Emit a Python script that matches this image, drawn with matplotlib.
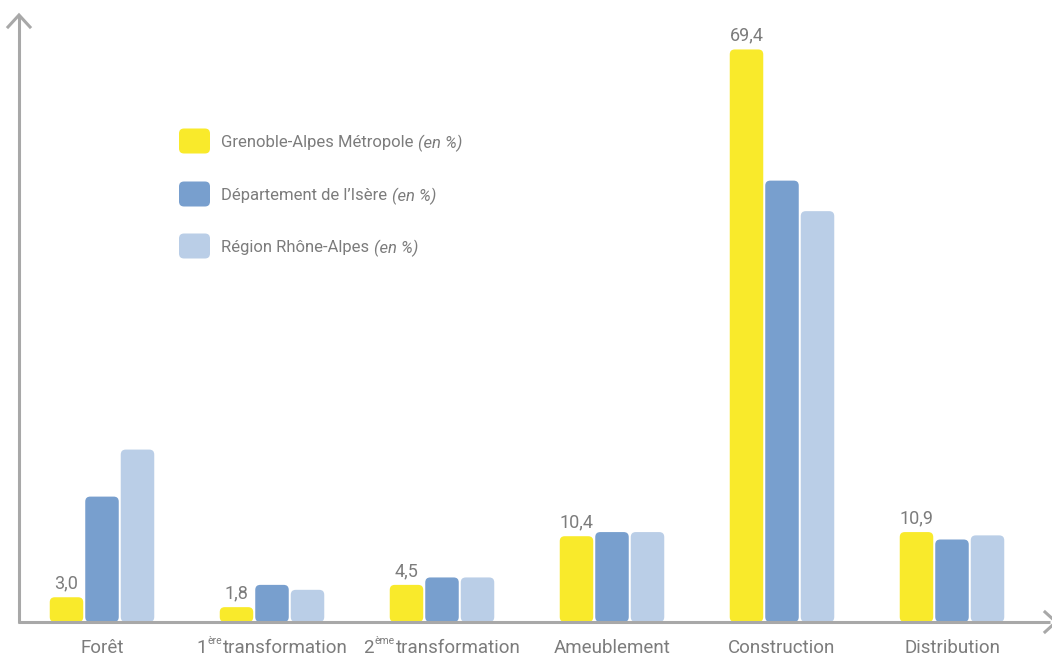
import matplotlib
matplotlib.use("Agg")
import matplotlib.pyplot as plt
from matplotlib.patches import FancyBboxPatch
from matplotlib.lines import Line2D

# Data
categories = ["Forêt", "1ère transformation", "2ème transformation",
              "Ameublement", "Construction", "Distribution"]
metropole = [3.0, 1.8, 4.5, 10.4, 69.4, 10.9]
isere = [15.2, 4.5, 5.4, 10.9, 53.5, 10.0]
region = [20.9, 3.9, 5.4, 10.9, 49.8, 10.5]
metropole_labels = ["3,0", "1,8", "4,5", "10,4", "69,4", "10,9"]
series_names = ["Grenoble-Alpes Métropole", "Département de l’Isère", "Région Rhône-Alpes"]

# Category labels as (text, superscript) pieces
label_pieces = [
    [("Forêt", False)],
    [("1", False), ("ère", True), ("transformation", False)],
    [("2", False), ("ème", True), ("transformation", False)],
    [("Ameublement", False)],
    [("Construction", False)],
    [("Distribution", False)],
]

YELLOW = "#F9EA2B"
BLUE = "#789FCE"
LIGHT = "#BACEE7"
GREY_TXT = "#7C7C7C"
AXIS = "#A8A8A8"
FONT = ["Roboto", "DejaVu Sans"]

W, H = 1052, 657
fig = plt.figure(figsize=(W / 100, H / 100), dpi=100)
fig.patch.set_facecolor("white")

# Axes in pixel layout: baseline at y=622, y-axis at x=19
x0, base, top, x1 = 19, 622, 15, 1050
ax = fig.add_axes([x0 / W, (H - base) / H, (x1 - x0) / W, (base - top) / H])
px_per_unit_y = 8.25
group_px = 170.0
first_center = 102.0
ax.set_ylim(0, (base - top) / px_per_unit_y)
ax.set_xlim((x0 - first_center) / group_px, (x1 - first_center) / group_px)
ax.axis("off")

bar_w = 33.5 / group_px
step = 35.5 / group_px
radius_px = 5.0
aspect = group_px / px_per_unit_y

colors = [YELLOW, BLUE, LIGHT]
for k, (vals, col) in enumerate(zip([metropole, isere, region], colors)):
    for i, v in enumerate(vals):
        xc = i + (k - 1) * step
        p = FancyBboxPatch((xc - bar_w / 2, 0), bar_w, v,
                           boxstyle=f"round,pad=0,rounding_size={radius_px / group_px}",
                           mutation_aspect=aspect, facecolor=col, edgecolor="none",
                           zorder=2)
        ax.add_patch(p)

# Value labels above the Métropole bars
for i, (v, lab) in enumerate(zip(metropole, metropole_labels)):
    ax.annotate(lab, xy=(i - step, v), xytext=(0, 5), textcoords="offset pixels",
                ha="center", va="bottom", fontsize=13, color=GREY_TXT,
                family=FONT)

# Axis lines with open arrowheads
axis_kw = dict(color=AXIS, lw=2.2, solid_capstyle="butt", transform=fig.transFigure,
               clip_on=False, zorder=3)
def fx(px):
    return px / W
def fy(py):
    return 1 - py / H
fig.add_artist(Line2D([fx(19), fx(19)], [fy(base + 1), fy(top)], **axis_kw))
fig.add_artist(Line2D([fx(18), fx(1050)], [fy(base), fy(base)], **axis_kw))
fig.add_artist(Line2D([fx(8), fx(19), fx(30)], [fy(27), fy(15), fy(27)],
                      color=AXIS, lw=2.2, transform=fig.transFigure, solid_joinstyle="miter"))
fig.add_artist(Line2D([fx(1045), fx(1056), fx(1045)], [fy(base - 10), fy(base), fy(base + 10)],
                      color=AXIS, lw=2.2, transform=fig.transFigure))

# Category labels with superscripts
fig.canvas.draw()
renderer = fig.canvas.get_renderer()
main_size, sup_size = 13.5, 7.5
for i, pieces in enumerate(label_pieces):
    widths = []
    for txt, sup in pieces:
        t = fig.text(0, 0, txt, fontsize=sup_size if sup else main_size, family=FONT)
        widths.append(t.get_window_extent(renderer).width)
        t.remove()
    total = sum(widths) + 1.0 * (len(pieces) - 1)
    xc_px = first_center + group_px * i
    xpos = xc_px - total / 2
    for (txt, sup), w in zip(pieces, widths):
        fig.text(fx(xpos), fy(653) + (9 / H if sup else 0), txt,
                 fontsize=sup_size if sup else main_size, family=FONT,
                 color=GREY_TXT, ha="left", va="baseline")
        xpos += w + 1.0

# Legend
legend_rows = [141, 194, 246]
for name, col, yc in zip(series_names, colors, legend_rows):
    box = FancyBboxPatch((fx(179), fy(yc + 12.5)), 31 / W, 25 / H,
                         boxstyle=f"round,pad=0,rounding_size={5 / W}",
                         mutation_aspect=W / H, transform=fig.transFigure,
                         facecolor=col, edgecolor="none")
    fig.add_artist(box)
    t1 = fig.text(fx(221), fy(yc), name, fontsize=12, family=FONT, color=GREY_TXT,
                  ha="left", va="center_baseline")
    w1 = t1.get_window_extent(renderer).width
    fig.text(fx(221 + w1 + 5), fy(yc), "(en %)", fontsize=12, family=FONT,
             color=GREY_TXT, style="italic", ha="left", va="center_baseline")

fig.savefig("out.png", dpi=100, facecolor="white")
